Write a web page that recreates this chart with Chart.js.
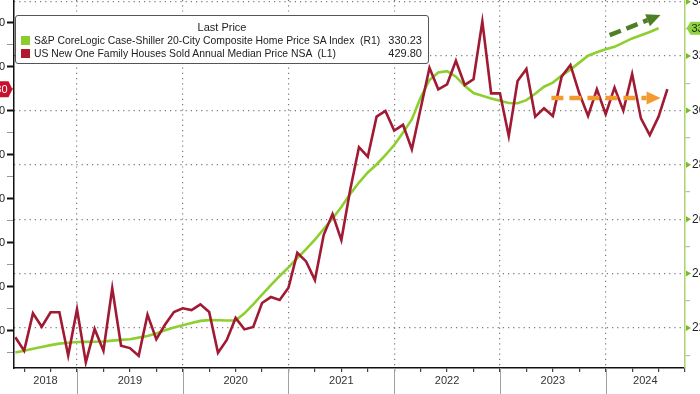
<!DOCTYPE html>
<html>
<head>
<meta charset="utf-8">
<script src="https://cdn.jsdelivr.net/npm/chart.js@4.4.1/dist/chart.umd.min.js"></script>
<style>
  html, body { margin: 0; padding: 0; background: #fff; }
  #wrap { position: relative; width: 700px; height: 394px; overflow: hidden; background: #fff; }
  #chart { position: absolute; left: -50px; top: -20px; }
  #legend {
    position: absolute; left: 15px; top: 15px; width: 412px; height: 47px;
    border: 1px solid #555; border-radius: 3px; background: #fff;
    font-family: 'Liberation Sans', Arial, sans-serif; font-size: 10.4px; color: #222;
  }
  #legend .title { position: absolute; left: 0; right: 0; top: 5px; text-align: center; font-size: 11px; }
  #legend .row { position: absolute; left: 5px; right: 6px; height: 13px; line-height: 13px; white-space: pre; }
  #legend .sw { position: absolute; left: 0; top: 2px; width: 9px; height: 9px; }
  #legend .name { position: absolute; left: 13px; }
  #legend .val { position: absolute; right: 0; font-size: 11px; }
</style>
</head>
<body>
<div id="wrap">
  <canvas id="chart" width="800" height="414"></canvas>
  <div id="legend">
    <div class="title">Last Price</div>
    <div class="row" style="top:18px"><span class="sw" style="background:#8ccc2e"></span><span class="name">S&amp;P CoreLogic Case-Shiller 20-City Composite Home Price SA Index  (R1)</span><span class="val">330.23</span></div>
    <div class="row" style="top:31px"><span class="sw" style="background:#b01a30"></span><span class="name">US New One Family Houses Sold Annual Median Price NSA  (L1)</span><span class="val">429.80</span></div>
  </div>
</div>
<script>
// Meses desde jun 2018 (índice 0) hasta ago 2024
const years = [2018, 2019, 2020, 2021, 2022, 2023, 2024];
const firstYear = 2018;
const firstMonth = 6; // junio

// US New One Family Houses Sold Median Price (miles USD), jun 2018 - ago 2024
const medianPrice = [
  317.0, 310.9, 327.9, 321.8, 328.4, 328.4, 308.7,
  329.8, 305.6, 320.8, 310.9, 339.3, 313.2, 312.1, 308.6, 327.3, 316.1, 322.8, 328.5,
  330.2, 329.4, 332.0, 328.5, 310.0, 315.8, 325.8, 320.6, 321.7, 332.6, 335.3, 334.0,
  339.5, 355.4, 351.5, 343.0, 363.6, 373.0, 361.2, 384.0, 403.4, 399.1, 417.3, 419.9,
  411.0, 413.6, 402.5, 421.0, 439.5, 429.7, 432.0, 442.7, 431.7, 434.3, 460.5, 427.9,
  427.9, 408.5, 433.5, 439.0, 417.3, 421.1, 417.6, 435.5, 440.8, 427.9, 417.6, 429.7,
  418.4, 430.5, 420.0, 436.7, 416.5, 408.9, 417.3, 429.8
];

// Case-Shiller 20-City SA, jun 2018 - jul 2024
const caseShiller = [
  211.0, 211.65, 212.35, 213.05, 213.7, 214.26, 214.6,
  214.85, 214.9, 214.93, 215.04, 215.37, 215.62, 215.88, 216.47, 217.06, 218.01, 219.15, 220.22,
  221.03, 221.84, 222.61, 222.9, 222.83, 222.76, 222.76, 225.41, 228.68, 232.28, 235.74, 239.12,
  242.32, 245.74, 248.98, 252.54, 256.41, 260.27, 264.5, 269.3, 273.5, 277.19, 280.13, 283.62,
  287.3, 291.86, 296.68, 304.77, 311.2, 313.96, 314.48, 312.42, 309.07, 306.42, 305.39, 304.44,
  303.56, 302.75, 302.64, 303.81, 306.17, 308.74, 310.25, 312.86, 315.03, 317.6, 320.14, 321.43,
  322.49, 323.41, 324.96, 326.5, 327.68, 328.86, 330.23
];

// Ticks
const leftTicks = [310, 320, 330, 340, 350, 360, 370, 380, 390, 400, 410, 420, 430, 440, 450, 460];
const rightTicks = [210, 220, 230, 240, 250, 260, 270, 280, 290, 300, 310, 320, 330, 340];
const quarterTicks = [1, 4, 7, 10, 13, 16, 19, 22, 25, 28, 31, 34, 37, 40, 43, 46, 49, 52, 55, 58, 61, 64, 67, 70, 73, 76];

// Flechas de tendencia (índice de mes, valor)
const greenArrow = { from: [67.45, 327.7], to: [73.23, 335.1] };
const orangeArrow = { from: [60.84, 425.8], to: [73.23, 425.8] };

const FONT = "'Liberation Sans', Arial, sans-serif";
const RED = '#a01a33';
const GREEN = '#8dcf2f';
const DOTS = '#7a7a7a';

function janIndex(y) { return (y - firstYear) * 12 - (firstMonth - 1); }
function isMajor(v) { return v % 20 === 0; }

function drawArrow(ctx, x1, y1, x2, y2, color) {
  const ang = Math.atan2(y2 - y1, x2 - x1);
  const head = 14, hw = 6.5;
  const bx = x2 - head * Math.cos(ang), by = y2 - head * Math.sin(ang);
  ctx.save();
  ctx.strokeStyle = color;
  ctx.lineWidth = 4.5;
  ctx.setLineDash([12, 6]);
  ctx.beginPath(); ctx.moveTo(x1, y1); ctx.lineTo(bx, by); ctx.stroke();
  ctx.setLineDash([]);
  ctx.fillStyle = color;
  ctx.beginPath();
  ctx.moveTo(x2, y2);
  ctx.lineTo(bx + hw * Math.sin(ang), by - hw * Math.cos(ang));
  ctx.lineTo(bx - hw * Math.sin(ang), by + hw * Math.cos(ang));
  ctx.closePath(); ctx.fill();
  ctx.restore();
}

const extras = {
  id: 'extras',
  afterDatasetsDraw(chart) {
    const { ctx, scales: { x, y, y1 } } = chart;
    drawArrow(ctx, x.getPixelForValue(orangeArrow.from[0]), y.getPixelForValue(orangeArrow.from[1]),
      x.getPixelForValue(orangeArrow.to[0]), y.getPixelForValue(orangeArrow.to[1]), '#f39a2e');
    drawArrow(ctx, x.getPixelForValue(greenArrow.from[0]), y1.getPixelForValue(greenArrow.from[1]),
      x.getPixelForValue(greenArrow.to[0]), y1.getPixelForValue(greenArrow.to[1]), '#4d7f25');
  },
  afterDraw(chart) {
    const { ctx, chartArea: a, scales: { x, y, y1 } } = chart;
    ctx.save();
    // separadores y etiquetas de años
    ctx.font = '11px ' + FONT;
    ctx.fillStyle = '#333';
    ctx.textAlign = 'center';
    ctx.textBaseline = 'middle';
    years.forEach(yr => {
      const s = Math.max(x.getPixelForValue(janIndex(yr)), a.left);
      const e = Math.min(x.getPixelForValue(janIndex(yr + 1)), a.right);
      ctx.fillText(String(yr), (s + e) / 2, a.bottom + 13);
      const px = x.getPixelForValue(janIndex(yr));
      if (px > a.left + 1 && px < a.right - 1) {
        ctx.strokeStyle = '#a0a0a0';
        ctx.lineWidth = 1;
        ctx.beginPath(); ctx.moveTo(Math.round(px) + 0.5, a.bottom); ctx.lineTo(Math.round(px) + 0.5, a.bottom + 30); ctx.stroke();
      }
    });
    // triángulos del eje derecho
    ctx.fillStyle = '#7bb82c';
    rightTicks.filter(isMajor).forEach(v => {
      const py = y1.getPixelForValue(v);
      ctx.beginPath();
      ctx.moveTo(a.right + 1, py - 3);
      ctx.lineTo(a.right + 6, py);
      ctx.lineTo(a.right + 1, py + 3);
      ctx.closePath(); ctx.fill();
    });
    // etiqueta último valor (izquierda)
    const ly = y.getPixelForValue(medianPrice[medianPrice.length - 1]);
    const tip = a.left - 1.5;
    ctx.fillStyle = '#c4122f';
    ctx.beginPath();
    ctx.moveTo(tip, ly);
    ctx.lineTo(tip - 4, ly - 8);
    ctx.lineTo(tip - 44, ly - 8);
    ctx.lineTo(tip - 48, ly);
    ctx.lineTo(tip - 44, ly + 8);
    ctx.lineTo(tip - 4, ly + 8);
    ctx.closePath(); ctx.fill();
    ctx.fillStyle = '#fff';
    ctx.textAlign = 'right';
    ctx.fillText('429.80', tip - 5, ly + 0.5);
    // etiqueta último valor (derecha)
    const ry = y1.getPixelForValue(caseShiller[caseShiller.length - 1]);
    const rt = a.right + 1.5;
    ctx.fillStyle = '#8fd13f';
    ctx.beginPath();
    ctx.moveTo(rt, ry);
    ctx.lineTo(rt + 4, ry - 6.5);
    ctx.lineTo(rt + 44, ry - 6.5);
    ctx.lineTo(rt + 44, ry + 6.5);
    ctx.lineTo(rt + 4, ry + 6.5);
    ctx.closePath(); ctx.fill();
    ctx.fillStyle = '#1e2a10';
    ctx.textAlign = 'left';
    ctx.fillText('330.23', rt + 5, ry + 0.5);
    ctx.restore();
  }
};

new Chart(document.getElementById('chart'), {
  type: 'line',
  data: {
    datasets: [
      {
        label: 'US New One Family Houses Sold Annual Median Price NSA',
        data: medianPrice.map((v, i) => ({ x: i, y: v })),
        yAxisID: 'y',
        borderColor: RED,
        borderWidth: 2.6,
        pointRadius: 0,
        tension: 0,
        order: 0
      },
      {
        label: 'S&P CoreLogic Case-Shiller 20-City Composite Home Price SA Index',
        data: caseShiller.map((v, i) => ({ x: i, y: v })),
        yAxisID: 'y1',
        borderColor: GREEN,
        borderWidth: 2.6,
        pointRadius: 0,
        tension: 0,
        order: 1
      }
    ]
  },
  options: {
    responsive: false,
    devicePixelRatio: 1,
    animation: false,
    layout: { padding: { top: 20, left: 0, right: 0, bottom: 0 } },
    plugins: { legend: { display: false }, tooltip: { enabled: false } },
    scales: {
      x: {
        type: 'linear',
        min: -0.15,
        max: 76,
        afterBuildTicks: s => { s.ticks = quarterTicks.map(v => ({ value: v })); },
        afterFit: s => { s.height = 26; s.paddingLeft = 0; s.paddingRight = 0; },
        ticks: { display: false },
        grid: {
          drawOnChartArea: true,
          color: c => ((c.tick && (c.tick.value - janIndex(2019)) % 12 === 0) ? DOTS : 'rgba(0,0,0,0)'),
          lineWidth: 1.2,
          tickLength: 4,
          tickColor: '#444'
        },
        border: { display: true, color: '#111', width: 1.5, dash: [1.2, 4] }
      },
      y: {
        position: 'left',
        min: 303.05,
        max: 470.32,
        afterBuildTicks: s => { s.ticks = leftTicks.map(v => ({ value: v })); },
        afterFit: s => { s.width = 64; s.paddingTop = 0; s.paddingBottom = 0; },
        ticks: {
          padding: 2,
          color: '#222',
          font: { family: FONT, size: 11 },
          callback: v => (isMajor(v) ? v : '')
        },
        grid: {
          drawOnChartArea: false,
          tickLength: 7,
          tickColor: c => (c.tick && isMajor(c.tick.value) ? '#111' : '#999'),
          tickWidth: c => (c.tick && isMajor(c.tick.value) ? 2 : 1)
        },
        border: { display: true, color: '#111', width: 1.5 }
      },
      y1: {
        position: 'right',
        min: 205.29,
        max: 340.63,
        afterBuildTicks: s => { s.ticks = rightTicks.map(v => ({ value: v })); },
        afterFit: s => { s.width = 65; s.paddingTop = 0; s.paddingBottom = 0; },
        ticks: {
          padding: 2,
          color: '#222',
          font: { family: FONT, size: 12 },
          callback: v => (isMajor(v) ? v : '')
        },
        grid: {
          drawOnChartArea: true,
          color: c => (c.tick && isMajor(c.tick.value) ? DOTS : 'rgba(0,0,0,0)'),
          lineWidth: 1.2,
          tickLength: 5,
          tickColor: c => (c.tick && isMajor(c.tick.value) ? 'rgba(0,0,0,0)' : '#bbb')
        },
        border: { display: true, color: '#a9d36b', width: 1.5, dash: [1.2, 4] }
      }
    }
  },
  plugins: [extras]
});
</script>
</body>
</html>
